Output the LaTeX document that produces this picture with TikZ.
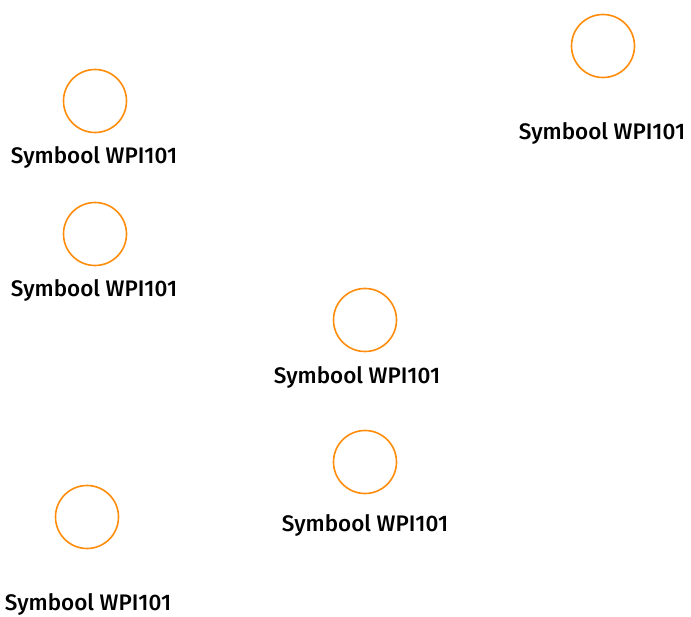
\documentclass[tikz,border=0pt]{standalone}
\usepackage{fontspec}
\setmainfont{Fira Sans}[UprightFont=*-Medium]
\usepackage{tikz}
\usetikzlibrary{positioning}
\definecolor{symorange}{RGB}{255, 140, 10}

\begin{document}
\begin{tikzpicture}[
    x=1pt, y=-1pt,
    symbol/.style={circle, draw=symorange, line width=1.6pt, minimum size=63pt, inner sep=0pt},
    tag/.style={font=\fontsize{22.5}{26}\selectfont, text=black, inner sep=0pt}
]
    \useasboundingbox (0,0) rectangle (691,617);

    % symbols
    \node[symbol] (wpiA) at (95,101) {};
    \node[symbol] (wpiB) at (603,46) {};
    \node[symbol] (wpiC) at (95,234) {};
    \node[symbol] (wpiD) at (365,320) {};
    \node[symbol] (wpiE) at (365,462) {};
    \node[symbol] (wpiF) at (87,517) {};

    % labels
    \node[tag] (tagA) at (94,157) {Symbool WPI101};
    \node[tag] (tagB) at (602,133) {Symbool WPI101};
    \node[tag] (tagC) at (94,290) {Symbool WPI101};
    \node[tag] (tagD) at (357,377) {Symbool WPI101};
    \node[tag] (tagE) at (365,525) {Symbool WPI101};
    \node[tag] (tagF) at (88,604) {Symbool WPI101};
\end{tikzpicture}
\end{document}
